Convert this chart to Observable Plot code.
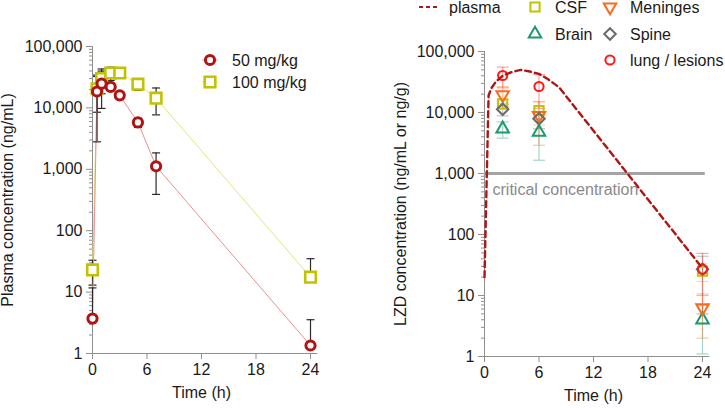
<!DOCTYPE html>
<html><head><meta charset="utf-8">
<script src="https://cdn.jsdelivr.net/npm/d3@7"></script>
<script src="https://cdn.jsdelivr.net/npm/@observablehq/plot@0.6"></script>
<style>
body{margin:0;background:#fff;font-family:"Liberation Sans",Arial,Helvetica,sans-serif;}
#wrap{position:relative;width:725px;height:408px;overflow:hidden;background:#fff;}
#left{position:absolute;left:0;top:0;}
#right{position:absolute;left:362px;top:0;}
#legend{position:absolute;left:0;top:0;pointer-events:none;}
</style></head><body>
<div id="wrap"><div id="left"></div><div id="right"></div><svg id="legend" width="725" height="408"></svg></div>
<script>
// ---------- data: left panel (plasma PK) ----------
const timeLeft = [0, 0.5, 1, 2, 3, 5, 7, 24];
const mean50  = [3.7, 18500, 24800, 22000, 16000, 5800, 1120, 1.35];
const sd50    = [8, 15700, 15000, 3000, 2000, 1000, 730, 2.2];
const mean100 = [23, 20500, 30000, 37000, 37000, 24300, 14400, 17.5];
const sd100   = [10, 12000, 13000, 9000, 6000, 5000, 6700, 17.5];
const leftSeries = ["50 mg/kg", "100 mg/kg"];

// ---------- data: right panel (tissues) ----------
const timeTissue = [2, 6, 24];
const csf      = [13900, 10700, 25];   const csfSd      = [2500, 4500, 8];
const brain    = [5400, 4750, 4.0];    const brainSd    = [1600, 3100, 2.9];
const meninges = [19500, 8900, 6.3];   const meningesSd = [7000, 6000, 4.3];
const spine    = [11300, 7900, 27];    const spineSd    = [2500, 2500, 17];
const lung     = [40400, 26700, 27];   const lungSd     = [15000, 15000, 22];
const plasmaTime = [0, 0.45, 0.75, 1.25, 2, 3, 4, 5, 6, 7, 8.2, 24];
const plasmaConc = [20, 19000, 25000, 32000, 40000, 46000, 50000, 47000, 43000, 35000, 26000, 28];
const criticalConc = 1000;
const criticalLabel = "critical concentration";

// ---------- ticks ----------
const majorTicks = [1, 10, 100, 1000, 10000, 100000];
const minorTicks = majorTicks.slice(0, -1).flatMap(p => [2,3,4,5,6,7,8,9].map(k => k * p));
const timeTicks = [0, 6, 12, 18, 24];

// ---------- styles ----------
const FONT = '"Liberation Sans", Arial, Helvetica, sans-serif';
const AXIS = "#8f8f8f";
const TEXT = "#1a1a1a";
const C50 = "#b31212", L50 = "#ec9090";
const C100 = "#c2c200", L100 = "#e4e47a";
const CPLASMA = "#b01515";
const CCSF = "#c2c200", CBRAIN = "#1b9a6f", CMEN = "#ff6a1a", CSPINE = "#6b6b6b", CLUNG = "#ff1a1a";

// ---------- custom symbols ----------
const rOf = size => Math.sqrt(size / Math.PI);
const symCircle = {draw(c, s){ const r = rOf(s); c.moveTo(r,0); c.arc(0,0,r,0,2*Math.PI); }};
const symSquare = {draw(c, s){ const h = rOf(s); c.moveTo(-h,-h); c.lineTo(h,-h); c.lineTo(h,h); c.lineTo(-h,h); c.closePath(); }};
const symTriUp = {draw(c, s){ const a = rOf(s)*2.6; const k = a/Math.sqrt(3);
  c.moveTo(0,-k); c.lineTo(a/2,k/2); c.lineTo(-a/2,k/2); c.closePath(); }};
const symTriDown = {draw(c, s){ const a = rOf(s)*2.6; const k = a/Math.sqrt(3);
  c.moveTo(0,k); c.lineTo(a/2,-k/2); c.lineTo(-a/2,-k/2); c.closePath(); }};
const symDiamond = {draw(c, s){ const h = rOf(s)*1.25; c.moveTo(0,-h); c.lineTo(h,0); c.lineTo(0,h); c.lineTo(-h,0); c.closePath(); }};
const capSym = w => ({draw(c){ c.moveTo(-w,0); c.lineTo(w,0); }});

function rows(times, means, sds, series){
  return times.map((t,i) => ({t, v: means[i], hi: means[i] + sds[i],
    lo: means[i] - sds[i] > 0 ? means[i] - sds[i] : means[i], series}));
}

function axes(yLabel, yLabelOffset){
  return [
    Plot.ruleX([0], {y1: 1, y2: 100000, stroke: AXIS}),
    Plot.ruleY([1], {x1: 0, x2: 24.8, stroke: AXIS}),
    Plot.axisY({ticks: minorTicks, tickSize: 3, tickFormat: () => "", label: null, stroke: AXIS}),
    Plot.axisY({ticks: majorTicks, tickSize: 6, tickPadding: 4, tickFormat: d3.format(","),
      stroke: AXIS, fill: TEXT, label: yLabel, labelAnchor: "center", labelArrow: "none", labelOffset: yLabelOffset}),
    Plot.axisX({ticks: timeTicks, tickSize: 6, tickPadding: 4, stroke: AXIS, fill: TEXT,
      label: "Time (h)", labelAnchor: "center", labelArrow: "none", labelOffset: 44})
  ];
}

// ---------- left panel ----------
const r50 = rows(timeLeft, mean50, sd50, leftSeries[0]);
const r100 = rows(timeLeft, mean100, sd100, leftSeries[1]);
function pkMarks(data, color, line, sym, r){
  return [
    Plot.line(data, {x: "t", y: "v", stroke: line, strokeWidth: 1}),
    Plot.ruleX(data, {x: "t", y1: "lo", y2: "hi", stroke: "#2a2a2a", strokeWidth: 1.2}),
    Plot.dot(data, {x: "t", y: "hi", symbol: capSym(4), stroke: "#2a2a2a", fill: "none", strokeWidth: 1.2}),
    Plot.dot(data.filter(d => d.lo < d.v), {x: "t", y: "lo", symbol: capSym(4), stroke: "#2a2a2a", fill: "none", strokeWidth: 1.2}),
  ];
}
const left = Plot.plot({
  width: 362, height: 408, marginLeft: 92, marginRight: 52, marginTop: 46, marginBottom: 55,
  x: {domain: [0, 24]}, y: {type: "log", domain: [1, 100000]},
  style: {fontFamily: FONT, fontSize: "16px", color: TEXT, background: "transparent", overflow: "visible"},
  marks: [
    ...axes("Plasma concentration (ng/mL)", 91),
    ...pkMarks(r100, C100, L100),
    ...pkMarks(r50, C50, L50),
    Plot.dot(r100, {x: "t", y: "v", symbol: symSquare, r: 5.3, stroke: C100, strokeWidth: 2.6, fill: "white"}),
    Plot.dot(r50, {x: "t", y: "v", symbol: symCircle, r: 4.6, stroke: C50, strokeWidth: 3, fill: "white"})
  ]
});
document.getElementById("left").appendChild(left);

// ---------- right panel ----------
const tissues = [
  {name: "CSF", means: csf, sds: csfSd, color: CCSF, sym: symSquare, r: 4.6},
  {name: "Brain", means: brain, sds: brainSd, color: CBRAIN, sym: symTriUp, r: 4.8},
  {name: "Meninges", means: meninges, sds: meningesSd, color: CMEN, sym: symTriDown, r: 4.8},
  {name: "Spine", means: spine, sds: spineSd, color: CSPINE, sym: symDiamond, r: 4.6},
  {name: "lung / lesions", means: lung, sds: lungSd, color: CLUNG, sym: symCircle, r: 4.6}
];
const plasma = plasmaTime.map((t,i) => ({t, v: plasmaConc[i]}));
const tissueMarks = [];
for (const ts of tissues) {
  const data = rows(timeTissue, ts.means, ts.sds, ts.name);
  tissueMarks.push(
    Plot.ruleX(data, {x: "t", y1: "lo", y2: "hi", stroke: ts.color, strokeOpacity: 0.4, strokeWidth: 1.2}),
    Plot.dot(data, {x: "t", y: "hi", symbol: capSym(6), stroke: ts.color, strokeOpacity: 0.4, fill: "none", strokeWidth: 1.2}),
    Plot.dot(data.filter(d => d.lo < d.v), {x: "t", y: "lo", symbol: capSym(6), stroke: ts.color, strokeOpacity: 0.4, fill: "none", strokeWidth: 1.2})
  );
}
for (const ts of tissues) {
  const data = rows(timeTissue, ts.means, ts.sds, ts.name);
  tissueMarks.push(Plot.dot(data, {x: "t", y: "v", symbol: ts.sym, r: ts.r, stroke: ts.color, strokeWidth: 2, fill: "none"}));
}
const right = Plot.plot({
  width: 363, height: 408, marginLeft: 122, marginRight: 23, marginTop: 51, marginBottom: 52,
  x: {domain: [0, 24]}, y: {type: "log", domain: [1, 100000]},
  style: {fontFamily: FONT, fontSize: "16px", color: TEXT, background: "transparent", overflow: "visible"},
  marks: [
    ...axes("LZD concentration (ng/mL or ng/g)", 90),
    Plot.ruleY([criticalConc], {x1: 0, x2: 24.3, stroke: "#a3a3a3", strokeWidth: 3}),
    Plot.text([criticalConc], {x: 0, y: d => d, text: () => criticalLabel, textAnchor: "start", dx: 8, dy: 16, fill: "#8a8a8a", fontSize: 16}),
    ...tissueMarks,
    Plot.line(plasma, {x: "t", y: "v", stroke: CPLASMA, strokeWidth: 2.4, strokeDasharray: "6,4"})
  ]
});
document.getElementById("right").appendChild(right);

// ---------- legends ----------
const leg = d3.select("#legend");
function symPath(sym, r){ const p = d3.path(); sym.draw(p, Math.PI*r*r); return p.toString(); }
function legendItem(x, y, tx, label, drawMarker){
  const g = leg.append("g");
  drawMarker(g, x, y);
  g.append("text").attr("x", tx).attr("y", y).attr("dy", "0.35em")
    .attr("font-family", FONT).attr("font-size", 16).attr("fill", TEXT).text(label);
}
const leftLegend = [
  {label: leftSeries[0], sym: symCircle, r: 4.6, color: C50, line: L50, sw: 3, y: 60},
  {label: leftSeries[1], sym: symSquare, r: 5.3, color: C100, line: L100, sw: 2.6, y: 82}
];
for (const it of leftLegend) {
  legendItem(210, it.y, 232, it.label, (g, x, y) => {
    g.append("line").attr("x1", x-8).attr("x2", x+8).attr("y1", y).attr("y2", y).attr("stroke", it.line);
    g.append("path").attr("d", symPath(it.sym, it.r)).attr("transform", `translate(${x},${y})`)
      .attr("fill", "white").attr("stroke", it.color).attr("stroke-width", it.sw);
  });
}
legendItem(428, 7, 449, "plasma", (g, x, y) => {
  g.append("line").attr("x1", x-9).attr("x2", x+9).attr("y1", y).attr("y2", y)
    .attr("stroke", CPLASMA).attr("stroke-width", 2.2).attr("stroke-dasharray", "4,3");
});
const rightLegendPos = {"CSF": [535, 7], "Meninges": [610, 7], "Brain": [535, 34], "Spine": [610, 34], "lung / lesions": [610, 60]};
for (const ts of tissues) {
  const [x, y] = rightLegendPos[ts.name];
  legendItem(x, y, x + 20, ts.name, (g, x, y) => {
    g.append("path").attr("d", symPath(ts.sym, ts.r)).attr("transform", `translate(${x},${y})`)
      .attr("fill", "none").attr("stroke", ts.color).attr("stroke-width", 2);
  });
}
</script>
</body></html>
